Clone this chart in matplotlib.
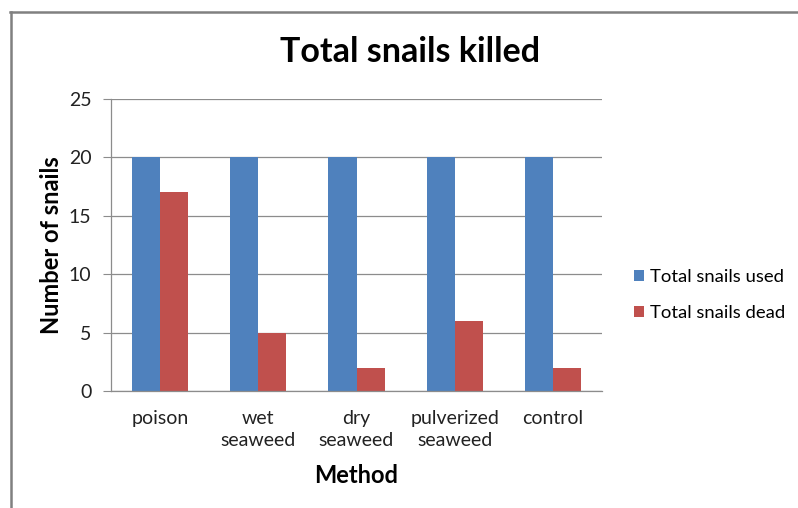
import matplotlib.pyplot as plt
from matplotlib.lines import Line2D
import numpy as np

plt.rcParams['font.family'] = ['Lato', 'DejaVu Sans']

methods = ['poison', 'wet\nseaweed', 'dry\nseaweed', 'pulverized\nseaweed', 'control']
snails_used = [20, 20, 20, 20, 20]
snails_dead = [17, 5, 2, 6, 2]
series_names = ['Total snails used', 'Total snails dead']

blue = '#4F81BD'
red = '#C0504D'
grid_col = '#8C8C8C'

W, H = 798, 508
fig = plt.figure(figsize=(W / 100, H / 100), dpi=100)
ax = fig.add_axes([111 / W, 1 - 391 / H, (602 - 111) / W, (391 - 99) / H])

x = np.arange(len(methods))
w = 1 / 3.5
ax.bar(x - w / 2, snails_used, w, color=blue, label=series_names[0])
ax.bar(x + w / 2, snails_dead, w, color=red, label=series_names[1])

ax.set_xlim(-0.5, len(methods) - 0.5)
ax.set_ylim(0, 25)
ax.set_yticks(range(0, 26, 5))
ax.set_xticks(x)
ax.set_xticklabels(methods, fontsize=14, color='#222222', linespacing=1.3)
ax.tick_params(axis='y', labelsize=14, labelcolor='#222222', length=6,
               color=grid_col, pad=8)
ax.tick_params(axis='x', length=0, pad=14)
ax.yaxis.grid(True, color=grid_col, linewidth=0.9)
ax.set_axisbelow(True)
for s in ['top', 'right']:
    ax.spines[s].set_visible(False)
for s in ['left', 'bottom']:
    ax.spines[s].set_color(grid_col)
    ax.spines[s].set_linewidth(0.9)

ax.set_ylabel('Number of snails', fontsize=17, fontweight='bold', labelpad=4)
ax.set_xlabel('Method', fontsize=17, fontweight='bold', labelpad=11)

fig.text(410 / W, 1 - 52 / H, 'Total snails killed', fontsize=24.5,
         fontweight='bold', ha='center', va='center')

ax.legend(loc='center left', bbox_to_anchor=(634 / W, 1 - 295 / H),
          bbox_transform=fig.transFigure, frameon=False, fontsize=13.3,
          borderpad=0, borderaxespad=0,
          handlelength=0.55, handleheight=0.55, handletextpad=0.3,
          labelspacing=1.05)

# chart border (cropped at right and bottom)
fig.add_artist(Line2D([10.5 / W, 10.5 / W], [1 - 12 / H, 0], color='#808080',
                      linewidth=1.8, transform=fig.transFigure))
fig.add_artist(Line2D([10 / W, 1], [1 - 12 / H, 1 - 12 / H], color='#808080',
                      linewidth=1.8, transform=fig.transFigure))

fig.savefig('out.png', dpi=100)
